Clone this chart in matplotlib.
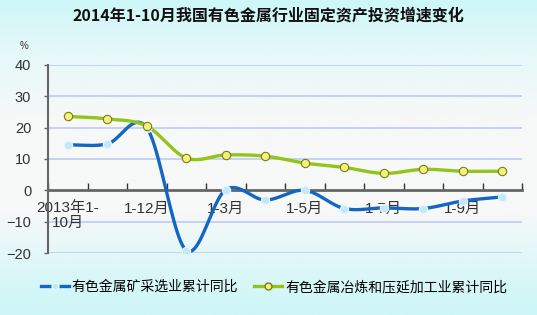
import numpy as np
import matplotlib
matplotlib.use('Agg')
import matplotlib.pyplot as plt
from matplotlib.colors import LinearSegmentedColormap
from matplotlib.lines import Line2D

plt.rcParams['font.family'] = ['Liberation Sans', 'Noto Sans CJK SC']

title = '2014年1-10月我国有色金属行业固定资产投资增速变化'
months = ['2013年1-\n10月', '1-11月', '1-12月', '2014年1-2月', '1-3月', '1-4月',
          '1-5月', '1-6月', '1-7月', '1-8月', '1-9月', '1-10月']
shown = [0, 2, 4, 6, 8, 10]
mining = [14.5, 14.8, 20.0, -19.2, 0.2, -3.1, 0.0, -5.8, -5.6, -5.8, -3.4, -2.1]
smelting = [23.6, 22.8, 20.5, 10.3, 11.3, 10.9, 8.7, 7.3, 5.4, 6.7, 6.1, 6.1]
names = ['有色金属矿采选业累计同比', '有色金属冶炼和压延加工业累计同比']


def smooth(y, k=20):
    # catmull-rom through the points
    y = np.asarray(y, float)
    n = len(y)
    m = np.zeros(n)
    m[1:-1] = (y[2:] - y[:-2]) / 2
    m[0] = y[1] - y[0]
    m[-1] = y[-1] - y[-2]
    xs, ys = [], []
    t = np.linspace(0, 1, k, endpoint=False)
    h00 = 2*t**3 - 3*t**2 + 1
    h10 = t**3 - 2*t**2 + t
    h01 = -2*t**3 + 3*t**2
    h11 = t**3 - t**2
    for i in range(n - 1):
        xs.extend(i + t)
        ys.extend(h00*y[i] + h10*m[i] + h01*y[i+1] + h11*m[i+1])
    xs.append(n - 1)
    ys.append(y[-1])
    return np.array(xs), np.array(ys)


fig = plt.figure(figsize=(5.37, 3.15), dpi=100)

# background gradient
bg = fig.add_axes([0, 0, 1, 1], zorder=-1)
cmap = LinearSegmentedColormap.from_list('bg', [
    (0.0, '#cdf7f8'), (0.15, '#e4f8f8'), (0.38, '#f8f8f8'),
    (0.68, '#f7f8f8'), (0.86, '#dcf7f8'), (1.0, '#cdf6f7')])
bg.imshow(np.linspace(0, 1, 256).reshape(-1, 1), aspect='auto', cmap=cmap,
          extent=[0, 1, 0, 1])
bg.axis('off')

ax = fig.add_axes([0.0894, 0.1968, 0.8827, 0.5969])
ax.set_facecolor('none')
x = np.arange(len(months))

ax.set_xlim(-0.5, 11.5)
ax.set_ylim(-20, 40)
ax.set_yticks([-20, -10, 0, 10, 20, 30, 40])
for v in [-20, -10, 10, 20, 30, 40]:
    ax.axhline(v, color='#c5cdf2', lw=1.3, zorder=1)

sx, sy = smooth(mining)
ax.plot(sx, sy, color='#1366c2', lw=2.4, zorder=3, solid_capstyle='round')
ax.plot(x, mining, 'o', ms=6, mfc='#c4e8fb', mec='#e8f6ff', mew=0.8, zorder=4)
gx, gy = smooth(smelting)
ax.plot(gx, gy, color='#92c41a', lw=2.4, zorder=3, solid_capstyle='round')
ax.plot(x, smelting, 'o', ms=6, mfc='#f2f27a', mec='#7d7a1a', mew=0.8, zorder=4)

for s in ['top', 'right']:
    ax.spines[s].set_visible(False)
ax.spines['bottom'].set_position(('data', 0))
ax.spines['bottom'].set_color('#666666')
ax.spines['bottom'].set_linewidth(2)
ax.spines['bottom'].set_zorder(2)
ax.spines['left'].set_color('#666666')
ax.spines['left'].set_linewidth(1.5)

ax.set_xticks(np.arange(-0.5, 12, 1))
ax.set_xticklabels([])
ax.tick_params(axis='x', which='major', direction='in', length=5, width=1, color='#333333')
ax.set_xticks(shown, minor=True)
ax.set_xticklabels([months[i] for i in shown], minor=True)
ax.tick_params(axis='x', which='minor', length=0, pad=8, labelsize=11, labelcolor='#333333')
for lbl in ax.get_xticklabels(minor=True):
    lbl.set_linespacing(1.0)
ax.tick_params(axis='y', length=3, width=1, color='#666666', pad=9, labelsize=10.5,
               labelcolor='#333333')

fig.text(0.5, 0.952, title, ha='center', va='center', fontsize=11.5, fontweight='bold',
         color='#111111', family=['Noto Sans CJK SC'])
fig.text(0.045, 0.855, '%', ha='center', va='center', fontsize=7, color='#333333')

handles = [
    Line2D([], [], color='#1366c2', lw=2.4, marker='o', ms=5, mfc='#c4e8fb', mec='#e8f6ff'),
    Line2D([], [], color='#92c41a', lw=2.4, marker='o', ms=5, mfc='#f2f27a', mec='#7d7a1a'),
]
fig.legend(handles, names, loc='center', bbox_to_anchor=(0.51, 0.089), ncol=2,
           frameon=False, handlelength=2.0, handletextpad=0.2,
           columnspacing=1.2, prop={'family': ['Noto Sans CJK SC'], 'size': 10})

fig.savefig('out.png', dpi=100)
